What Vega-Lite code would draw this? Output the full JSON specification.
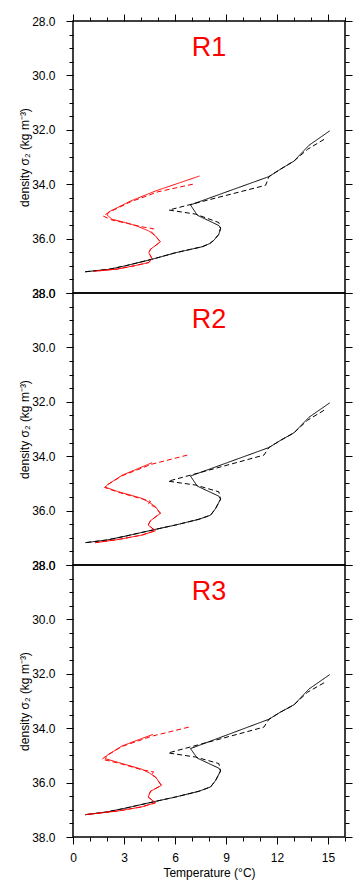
{
  "$schema": "https://vega.github.io/schema/vega-lite/v6.json",
  "padding": {"left": 17, "top": 12, "right": 12, "bottom": 10},
  "background": "white",
  "datasets": {
    "profiles": [
      {"p":"R1","s":"A1","t":15.1,"d":32.04},{"p":"R1","s":"A1","t":13.88,"d":32.57},{"p":"R1","s":"A1","t":13.0,"d":33.15},{"p":"R1","s":"A1","t":12.2,"d":33.45},{"p":"R1","s":"A1","t":11.53,"d":33.72},{"p":"R1","s":"A1","t":6.91,"d":34.76},{"p":"R1","s":"A1","t":7.31,"d":35.14},{"p":"R1","s":"A1","t":8.58,"d":35.52},{"p":"R1","s":"A1","t":8.68,"d":35.62},{"p":"R1","s":"A1","t":8.58,"d":35.84},{"p":"R1","s":"A1","t":8.29,"d":36.06},{"p":"R1","s":"A1","t":8.05,"d":36.18},{"p":"R1","s":"A1","t":7.6,"d":36.3},{"p":"R1","s":"A1","t":6.03,"d":36.52},{"p":"R1","s":"A1","t":4.65,"d":36.76},{"p":"R1","s":"A1","t":3.08,"d":37.0},{"p":"R1","s":"A1","t":2.1,"d":37.13},{"p":"R1","s":"A1","t":0.72,"d":37.22},
      {"p":"R1","s":"A2","t":14.77,"d":32.35},{"p":"R1","s":"A2","t":13.79,"d":32.72},{"p":"R1","s":"A2","t":13.0,"d":33.15},{"p":"R1","s":"A2","t":12.2,"d":33.45},{"p":"R1","s":"A2","t":11.53,"d":33.72},{"p":"R1","s":"A2","t":11.33,"d":34.04},{"p":"R1","s":"A2","t":5.64,"d":34.95},{"p":"R1","s":"A2","t":7.21,"d":35.1},{"p":"R1","s":"A2","t":8.58,"d":35.41},{"p":"R1","s":"A2","t":8.68,"d":35.62},{"p":"R1","s":"A2","t":8.58,"d":35.84},{"p":"R1","s":"A2","t":8.29,"d":36.06},{"p":"R1","s":"A2","t":8.05,"d":36.18},{"p":"R1","s":"A2","t":7.6,"d":36.3},{"p":"R1","s":"A2","t":6.03,"d":36.52},{"p":"R1","s":"A2","t":4.65,"d":36.76},{"p":"R1","s":"A2","t":3.08,"d":37.0},{"p":"R1","s":"A2","t":2.1,"d":37.13},{"p":"R1","s":"A2","t":0.72,"d":37.22},
      {"p":"R1","s":"B1","t":7.44,"d":33.7},{"p":"R1","s":"B1","t":4.85,"d":34.25},{"p":"R1","s":"B1","t":3.38,"d":34.62},{"p":"R1","s":"B1","t":2.1,"d":35.02},{"p":"R1","s":"B1","t":2.0,"d":35.13},{"p":"R1","s":"B1","t":2.3,"d":35.29},{"p":"R1","s":"B1","t":3.08,"d":35.41},{"p":"R1","s":"B1","t":3.77,"d":35.54},{"p":"R1","s":"B1","t":4.46,"d":35.72},{"p":"R1","s":"B1","t":4.85,"d":35.9},{"p":"R1","s":"B1","t":5.14,"d":36.12},{"p":"R1","s":"B1","t":4.56,"d":36.39},{"p":"R1","s":"B1","t":4.46,"d":36.52},{"p":"R1","s":"B1","t":4.65,"d":36.74},{"p":"R1","s":"B1","t":4.46,"d":36.88},{"p":"R1","s":"B1","t":3.6,"d":37.0},{"p":"R1","s":"B1","t":2.6,"d":37.12},{"p":"R1","s":"B1","t":1.25,"d":37.2},
      {"p":"R1","s":"B2","t":7.05,"d":34.0},{"p":"R1","s":"B2","t":5.0,"d":34.28},{"p":"R1","s":"B2","t":3.38,"d":34.65},{"p":"R1","s":"B2","t":2.1,"d":35.04},{"p":"R1","s":"B2","t":1.77,"d":35.17},{"p":"R1","s":"B2","t":2.3,"d":35.32},{"p":"R1","s":"B2","t":3.2,"d":35.44},{"p":"R1","s":"B2","t":4.0,"d":35.56},{"p":"R1","s":"B2","t":4.75,"d":35.64},{"p":"R1","s":"B2","t":4.6,"d":35.74},{"p":"R1","s":"B2","t":4.85,"d":35.92},{"p":"R1","s":"B2","t":5.14,"d":36.12},{"p":"R1","s":"B2","t":4.56,"d":36.39},{"p":"R1","s":"B2","t":4.46,"d":36.52},{"p":"R1","s":"B2","t":4.65,"d":36.74},{"p":"R1","s":"B2","t":4.46,"d":36.88},{"p":"R1","s":"B2","t":3.6,"d":37.0},{"p":"R1","s":"B2","t":2.6,"d":37.12},{"p":"R1","s":"B2","t":1.25,"d":37.2},

      {"p":"R2","s":"A1","t":15.1,"d":32.04},{"p":"R2","s":"A1","t":13.88,"d":32.57},{"p":"R2","s":"A1","t":13.0,"d":33.14},{"p":"R2","s":"A1","t":12.2,"d":33.42},{"p":"R2","s":"A1","t":11.53,"d":33.68},{"p":"R2","s":"A1","t":6.91,"d":34.73},{"p":"R2","s":"A1","t":7.31,"d":35.1},{"p":"R2","s":"A1","t":8.58,"d":35.47},{"p":"R2","s":"A1","t":8.68,"d":35.58},{"p":"R2","s":"A1","t":8.39,"d":35.92},{"p":"R2","s":"A1","t":8.09,"d":36.17},{"p":"R2","s":"A1","t":7.4,"d":36.32},{"p":"R2","s":"A1","t":6.03,"d":36.53},{"p":"R2","s":"A1","t":4.85,"d":36.69},{"p":"R2","s":"A1","t":3.08,"d":36.94},{"p":"R2","s":"A1","t":2.0,"d":37.08},{"p":"R2","s":"A1","t":0.72,"d":37.18},
      {"p":"R2","s":"A2","t":14.77,"d":32.31},{"p":"R2","s":"A2","t":13.79,"d":32.68},{"p":"R2","s":"A2","t":13.0,"d":33.14},{"p":"R2","s":"A2","t":12.2,"d":33.42},{"p":"R2","s":"A2","t":11.53,"d":33.68},{"p":"R2","s":"A2","t":11.23,"d":33.96},{"p":"R2","s":"A2","t":5.6,"d":34.92},{"p":"R2","s":"A2","t":7.21,"d":35.06},{"p":"R2","s":"A2","t":8.58,"d":35.31},{"p":"R2","s":"A2","t":8.68,"d":35.58},{"p":"R2","s":"A2","t":8.39,"d":35.92},{"p":"R2","s":"A2","t":8.09,"d":36.17},{"p":"R2","s":"A2","t":7.4,"d":36.32},{"p":"R2","s":"A2","t":6.03,"d":36.53},{"p":"R2","s":"A2","t":4.85,"d":36.69},{"p":"R2","s":"A2","t":3.08,"d":36.94},{"p":"R2","s":"A2","t":2.0,"d":37.08},{"p":"R2","s":"A2","t":0.72,"d":37.18},
      {"p":"R2","s":"B1","t":4.65,"d":34.24},{"p":"R2","s":"B1","t":2.89,"d":34.7},{"p":"R2","s":"B1","t":2.0,"d":35.06},{"p":"R2","s":"B1","t":1.9,"d":35.14},{"p":"R2","s":"B1","t":2.69,"d":35.31},{"p":"R2","s":"B1","t":4.06,"d":35.55},{"p":"R2","s":"B1","t":4.5,"d":35.7},{"p":"R2","s":"B1","t":4.85,"d":35.86},{"p":"R2","s":"B1","t":5.14,"d":36.1},{"p":"R2","s":"B1","t":4.56,"d":36.37},{"p":"R2","s":"B1","t":4.42,"d":36.53},{"p":"R2","s":"B1","t":4.85,"d":36.74},{"p":"R2","s":"B1","t":4.06,"d":36.9},{"p":"R2","s":"B1","t":2.69,"d":37.06},{"p":"R2","s":"B1","t":1.31,"d":37.18},
      {"p":"R2","s":"B2","t":6.72,"d":33.96},{"p":"R2","s":"B2","t":4.6,"d":34.3},{"p":"R2","s":"B2","t":2.89,"d":34.72},{"p":"R2","s":"B2","t":2.0,"d":35.06},{"p":"R2","s":"B2","t":1.86,"d":35.15},{"p":"R2","s":"B2","t":2.69,"d":35.33},{"p":"R2","s":"B2","t":4.06,"d":35.57},{"p":"R2","s":"B2","t":4.56,"d":35.66},{"p":"R2","s":"B2","t":4.45,"d":35.75},{"p":"R2","s":"B2","t":4.85,"d":35.88},{"p":"R2","s":"B2","t":5.14,"d":36.1},{"p":"R2","s":"B2","t":4.56,"d":36.37},{"p":"R2","s":"B2","t":4.42,"d":36.53},{"p":"R2","s":"B2","t":4.85,"d":36.74},{"p":"R2","s":"B2","t":4.06,"d":36.9},{"p":"R2","s":"B2","t":2.69,"d":37.06},{"p":"R2","s":"B2","t":1.31,"d":37.18},

      {"p":"R3","s":"A1","t":15.1,"d":32.03},{"p":"R3","s":"A1","t":13.88,"d":32.56},{"p":"R3","s":"A1","t":13.0,"d":33.14},{"p":"R3","s":"A1","t":12.2,"d":33.41},{"p":"R3","s":"A1","t":11.53,"d":33.67},{"p":"R3","s":"A1","t":6.91,"d":34.75},{"p":"R3","s":"A1","t":7.31,"d":35.1},{"p":"R3","s":"A1","t":8.58,"d":35.47},{"p":"R3","s":"A1","t":8.68,"d":35.57},{"p":"R3","s":"A1","t":8.39,"d":35.92},{"p":"R3","s":"A1","t":8.09,"d":36.16},{"p":"R3","s":"A1","t":7.4,"d":36.32},{"p":"R3","s":"A1","t":6.03,"d":36.53},{"p":"R3","s":"A1","t":4.85,"d":36.69},{"p":"R3","s":"A1","t":3.08,"d":36.94},{"p":"R3","s":"A1","t":2.0,"d":37.08},{"p":"R3","s":"A1","t":0.72,"d":37.18},
      {"p":"R3","s":"A2","t":14.77,"d":32.33},{"p":"R3","s":"A2","t":13.79,"d":32.68},{"p":"R3","s":"A2","t":13.0,"d":33.14},{"p":"R3","s":"A2","t":12.2,"d":33.41},{"p":"R3","s":"A2","t":11.53,"d":33.67},{"p":"R3","s":"A2","t":11.23,"d":33.96},{"p":"R3","s":"A2","t":5.6,"d":34.91},{"p":"R3","s":"A2","t":7.21,"d":35.06},{"p":"R3","s":"A2","t":8.58,"d":35.3},{"p":"R3","s":"A2","t":8.68,"d":35.57},{"p":"R3","s":"A2","t":8.39,"d":35.92},{"p":"R3","s":"A2","t":8.09,"d":36.16},{"p":"R3","s":"A2","t":7.4,"d":36.32},{"p":"R3","s":"A2","t":6.03,"d":36.53},{"p":"R3","s":"A2","t":4.85,"d":36.69},{"p":"R3","s":"A2","t":3.08,"d":36.94},{"p":"R3","s":"A2","t":2.0,"d":37.08},{"p":"R3","s":"A2","t":0.72,"d":37.18},
      {"p":"R3","s":"B1","t":4.69,"d":34.23},{"p":"R3","s":"B1","t":2.89,"d":34.65},{"p":"R3","s":"B1","t":2.0,"d":35.0},{"p":"R3","s":"B1","t":1.9,"d":35.12},{"p":"R3","s":"B1","t":2.89,"d":35.3},{"p":"R3","s":"B1","t":4.06,"d":35.51},{"p":"R3","s":"B1","t":4.5,"d":35.65},{"p":"R3","s":"B1","t":4.85,"d":35.79},{"p":"R3","s":"B1","t":5.2,"d":36.1},{"p":"R3","s":"B1","t":4.56,"d":36.32},{"p":"R3","s":"B1","t":4.42,"d":36.53},{"p":"R3","s":"B1","t":4.85,"d":36.74},{"p":"R3","s":"B1","t":4.06,"d":36.89},{"p":"R3","s":"B1","t":2.69,"d":37.04},{"p":"R3","s":"B1","t":0.72,"d":37.18},
      {"p":"R3","s":"B2","t":6.81,"d":33.96},{"p":"R3","s":"B2","t":4.6,"d":34.3},{"p":"R3","s":"B2","t":2.89,"d":34.67},{"p":"R3","s":"B2","t":2.0,"d":35.0},{"p":"R3","s":"B2","t":1.71,"d":35.14},{"p":"R3","s":"B2","t":2.89,"d":35.32},{"p":"R3","s":"B2","t":4.06,"d":35.53},{"p":"R3","s":"B2","t":4.75,"d":35.61},{"p":"R3","s":"B2","t":4.6,"d":35.7},{"p":"R3","s":"B2","t":4.85,"d":35.8},{"p":"R3","s":"B2","t":5.2,"d":36.1},{"p":"R3","s":"B2","t":4.56,"d":36.32},{"p":"R3","s":"B2","t":4.42,"d":36.53},{"p":"R3","s":"B2","t":4.85,"d":36.74},{"p":"R3","s":"B2","t":4.06,"d":36.89},{"p":"R3","s":"B2","t":2.69,"d":37.04},{"p":"R3","s":"B2","t":0.72,"d":37.18}
    ]
  },
  "spacing": 0,
  "bounds": "flush",
  "vconcat": [
    {
      "width": 272, "height": 272,
      "layer": [
        {
          "data": {"name": "profiles"},
          "transform": [{"filter": "datum.p === 'R1'"}],
          "mark": {"type": "line", "strokeWidth": 1},
          "encoding": {
            "x": {"field": "t", "type": "quantitative", "scale": {"domain": [0, 16], "nice": false, "zero": false},
              "axis": {"orient": "top", "values": [0,1,2,3,4,5,6,7,8,9,10,11,12,13,14,15,16], "labels": false, "title": null,
                "tickSize": {"condition": {"test": "datum.value % 3 === 0", "value": 7}, "value": 4}}},
            "y": {"field": "d", "type": "quantitative", "scale": {"domain": [28, 38], "reverse": true, "nice": false, "zero": false},
              "axis": {"orient": "left", "values": [28,28.5,29,29.5,30,30.5,31,31.5,32,32.5,33,33.5,34,34.5,35,35.5,36,36.5,37,37.5,38],
                "title": "density σ₂ (kg m⁻³)",
                "labelExpr": "datum.value % 2 === 0 ? format(datum.value, '.1f') : ''",
                "tickSize": {"condition": {"test": "datum.value % 2 === 0", "value": 7}, "value": 4}}},
            "color": {"field": "s", "type": "nominal", "scale": {"domain": ["A1","A2","B1","B2"], "range": ["#000000","#000000","#ff0000","#ff0000"]}, "legend": null},
            "strokeDash": {"field": "s", "type": "nominal", "scale": {"domain": ["A1","A2","B1","B2"], "range": [[1,0],[5,3],[1,0],[5,3]]}, "legend": null},
            "order": {"field": "d", "type": "quantitative"}
          }
        },
        {
          "data": {"values": [{"name": "R1"}]},
          "mark": {"type": "text", "color": "#ff0000", "fontSize": 27, "align": "center", "baseline": "middle"},
          "encoding": {
            "text": {"field": "name"},
            "x": {"datum": 8, "type": "quantitative", "axis": null},
            "y": {"datum": 29.0, "type": "quantitative",
              "axis": {"orient": "right", "values": [28,28.5,29,29.5,30,30.5,31,31.5,32,32.5,33,33.5,34,34.5,35,35.5,36,36.5,37,37.5,38], "labels": false, "title": null,
                "tickSize": {"condition": {"test": "datum.value % 2 === 0", "value": 7}, "value": 4}}}
          }
        }
      ],
      "resolve": {"axis": {"x": "independent", "y": "independent"}}
    },
    {
      "width": 272, "height": 272,
      "layer": [
        {
          "data": {"name": "profiles"},
          "transform": [{"filter": "datum.p === 'R2'"}],
          "mark": {"type": "line", "strokeWidth": 1},
          "encoding": {
            "x": {"field": "t", "type": "quantitative", "scale": {"domain": [0, 16], "nice": false, "zero": false}, "axis": null},
            "y": {"field": "d", "type": "quantitative", "scale": {"domain": [28, 38], "reverse": true, "nice": false, "zero": false},
              "axis": {"orient": "left", "values": [28,28.5,29,29.5,30,30.5,31,31.5,32,32.5,33,33.5,34,34.5,35,35.5,36,36.5,37,37.5,38],
                "title": "density σ₂ (kg m⁻³)",
                "labelExpr": "datum.value % 2 === 0 ? format(datum.value, '.1f') : ''",
                "tickSize": {"condition": {"test": "datum.value % 2 === 0", "value": 7}, "value": 4}}},
            "color": {"field": "s", "type": "nominal", "scale": {"domain": ["A1","A2","B1","B2"], "range": ["#000000","#000000","#ff0000","#ff0000"]}, "legend": null},
            "strokeDash": {"field": "s", "type": "nominal", "scale": {"domain": ["A1","A2","B1","B2"], "range": [[1,0],[5,3],[1,0],[5,3]]}, "legend": null},
            "order": {"field": "d", "type": "quantitative"}
          }
        },
        {
          "data": {"values": [{"name": "R2"}]},
          "mark": {"type": "text", "color": "#ff0000", "fontSize": 27, "align": "center", "baseline": "middle"},
          "encoding": {
            "text": {"field": "name"},
            "x": {"datum": 8, "type": "quantitative", "axis": null},
            "y": {"datum": 29.0, "type": "quantitative",
              "axis": {"orient": "right", "values": [28,28.5,29,29.5,30,30.5,31,31.5,32,32.5,33,33.5,34,34.5,35,35.5,36,36.5,37,37.5,38], "labels": false, "title": null,
                "tickSize": {"condition": {"test": "datum.value % 2 === 0", "value": 7}, "value": 4}}}
          }
        }
      ],
      "resolve": {"axis": {"x": "independent", "y": "independent"}}
    },
    {
      "width": 272, "height": 272,
      "layer": [
        {
          "data": {"name": "profiles"},
          "transform": [{"filter": "datum.p === 'R3'"}],
          "mark": {"type": "line", "strokeWidth": 1},
          "encoding": {
            "x": {"field": "t", "type": "quantitative", "scale": {"domain": [0, 16], "nice": false, "zero": false},
              "axis": {"orient": "bottom", "values": [0,1,2,3,4,5,6,7,8,9,10,11,12,13,14,15,16], "title": "Temperature (°C)",
                "labelExpr": "datum.value % 3 === 0 ? format(datum.value, 'd') : ''",
                "tickSize": {"condition": {"test": "datum.value % 3 === 0", "value": 7}, "value": 4}}},
            "y": {"field": "d", "type": "quantitative", "scale": {"domain": [28, 38], "reverse": true, "nice": false, "zero": false},
              "axis": {"orient": "left", "values": [28,28.5,29,29.5,30,30.5,31,31.5,32,32.5,33,33.5,34,34.5,35,35.5,36,36.5,37,37.5,38],
                "title": "density σ₂ (kg m⁻³)",
                "labelExpr": "datum.value % 2 === 0 ? format(datum.value, '.1f') : ''",
                "tickSize": {"condition": {"test": "datum.value % 2 === 0", "value": 7}, "value": 4}}},
            "color": {"field": "s", "type": "nominal", "scale": {"domain": ["A1","A2","B1","B2"], "range": ["#000000","#000000","#ff0000","#ff0000"]}, "legend": null},
            "strokeDash": {"field": "s", "type": "nominal", "scale": {"domain": ["A1","A2","B1","B2"], "range": [[1,0],[5,3],[1,0],[5,3]]}, "legend": null},
            "order": {"field": "d", "type": "quantitative"}
          }
        },
        {
          "data": {"values": [{"name": "R3"}]},
          "mark": {"type": "text", "color": "#ff0000", "fontSize": 27, "align": "center", "baseline": "middle"},
          "encoding": {
            "text": {"field": "name"},
            "x": {"datum": 8, "type": "quantitative", "axis": null},
            "y": {"datum": 29.0, "type": "quantitative",
              "axis": {"orient": "right", "values": [28,28.5,29,29.5,30,30.5,31,31.5,32,32.5,33,33.5,34,34.5,35,35.5,36,36.5,37,37.5,38], "labels": false, "title": null,
                "tickSize": {"condition": {"test": "datum.value % 2 === 0", "value": 7}, "value": 4}}}
          }
        }
      ],
      "resolve": {"axis": {"x": "independent", "y": "independent"}}
    }
  ],
  "config": {
    "font": "Liberation Sans",
    "view": {"stroke": "#000000", "strokeWidth": 1.5},
    "axis": {
      "domain": false, "grid": false,
      "tickColor": "#000000", "tickWidth": 1,
      "labelColor": "#000000", "labelFont": "Liberation Sans", "labelFontSize": 12,
      "labelOverlap": false, "labelFlush": false, "labelBound": false,
      "titleColor": "#000000", "titleFont": "Liberation Sans", "titleFontSize": 12, "titleFontWeight": "normal"
    },
    "axisY": {"labelPadding": 11, "titlePadding": 0},
    "axisX": {"labelPadding": 8, "titlePadding": 4},
    "text": {"font": "Liberation Sans"}
  }
}
